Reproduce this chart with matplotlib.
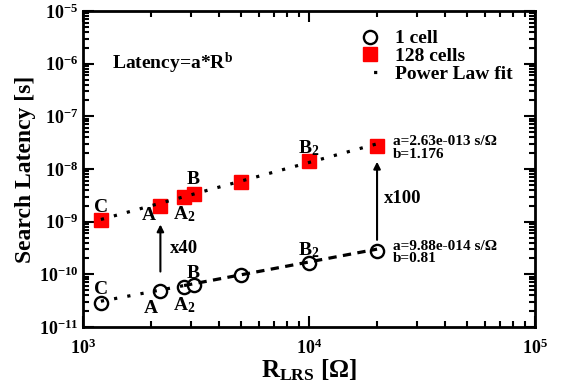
import matplotlib.pyplot as plt
import numpy as np
from matplotlib.lines import Line2D
from matplotlib.ticker import FuncFormatter

# measured search latency vs LRS resistance
r_one = [1200, 2200, 2800, 3100, 5000, 10000, 20000]
lat_one = [2.9e-11, 4.9e-11, 5.8e-11, 6.3e-11, 9.7e-11, 1.66e-10, 2.8e-10]
r_128 = [1200, 2200, 2800, 3100, 5000, 10000, 20000]
lat_128 = [1.07e-9, 2.0e-9, 3.0e-9, 3.4e-9, 5.7e-9, 1.43e-8, 2.75e-8]

# power law fits: latency = a * R^b
a_one, b_one = 9.88e-14, 0.81
a_128, b_128 = 2.63e-13, 1.176

# point labels (text, x, y) in data coords
labels_one = [('C', 1200, 5.2e-11), ('A', 2000, 2.2e-11), ('A$_\\mathbf{2}$', 2800, 2.6e-11),
              ('B', 3080, 1.02e-10), ('B$_\\mathbf{2}$', 10000, 2.9e-10)]
labels_128 = [('C', 1200, 1.85e-9), ('A', 1960, 1.3e-9), ('A$_\\mathbf{2}$', 2800, 1.4e-9),
              ('B', 3080, 6.3e-9), ('B$_\\mathbf{2}$', 10000, 2.5e-8)]

plt.rcParams['font.family'] = 'Liberation Serif'
plt.rcParams['font.weight'] = 'bold'
plt.rcParams['axes.labelweight'] = 'bold'
plt.rcParams['mathtext.fontset'] = 'custom'
plt.rcParams['mathtext.rm'] = 'Liberation Serif:bold'
plt.rcParams['mathtext.bf'] = 'Liberation Serif:bold'
plt.rcParams['mathtext.it'] = 'Liberation Serif:bold'
plt.rcParams['mathtext.default'] = 'bf'


def pow10(v, pos):
    e = int(round(np.log10(v)))
    return '$\\mathbf{10^{%d}}$' % e


fig = plt.figure(figsize=(5.62, 3.91), dpi=100)
ax = fig.add_axes([0.1477, 0.1637, 0.8043, 0.8082])

dot = (0, (1, 3.2))
dash = (0, (2.6, 2.0))

# markers
ax.plot(r_one, lat_one, 'o', mfc='white', mec='black', mew=1.7, ms=9.5, zorder=3)
ax.plot(r_128, lat_128, 's', mfc='red', mec='red', ms=10, zorder=3)

# fit lines
rr = np.array([1200, 2800])
ax.plot(rr, a_one * rr ** b_one, color='black', lw=2.3, ls=dot, zorder=4)
rr = np.array([2800, 20000])
ax.plot(rr, a_one * rr ** b_one, color='black', lw=2.3, ls=dash, zorder=4)
rr = np.array([1200, 20000])
ax.plot(rr, a_128 * rr ** b_128, color='black', lw=2.3, ls=dot, zorder=4)

for txt, x, y in labels_one + labels_128:
    ax.text(x, y, txt, fontsize=14, ha='center', va='center', fontweight='bold')

# scaling arrows
ax.annotate('', xy=(2200, 1.0e-9), xytext=(2200, 1.0e-10),
            arrowprops=dict(arrowstyle='-|>', color='black', lw=1.5, mutation_scale=10))
ax.text(2430, 3.1e-10, 'x40', fontsize=13.5, va='center', fontweight='bold')
ax.annotate('', xy=(20000, 1.55e-8), xytext=(20000, 4.0e-10),
            arrowprops=dict(arrowstyle='-|>', color='black', lw=1.5, mutation_scale=10))
ax.text(21500, 2.8e-9, 'x100', fontsize=13.5, va='center', fontweight='bold')

ax.text(23500, 2.5e-8, 'a=2.63e-013 s/\u03a9\nb=1.176', fontsize=11, va='center',
        linespacing=0.95, fontweight='bold')
ax.text(23500, 2.6e-10, 'a=9.88e-014 s/\u03a9\nb=0.81', fontsize=11, va='center',
        linespacing=0.95, fontweight='bold')
ax.text(1350, 1.0e-6, 'Latency=a*R$^{\\mathbf{b}}$', fontsize=14, va='center',
        fontweight='bold')

handles = [Line2D([], [], ls='none', marker='o', mfc='white', mec='black', mew=1.7, ms=9.5),
           Line2D([], [], ls='none', marker='s', mfc='red', mec='red', ms=10),
           Line2D([], [], color='black', lw=2.3, ls=(1.0, (1, 5.5)))]
ax.legend(handles, ['1 cell', '128 cells', 'Power Law fit'], loc='upper right',
          bbox_to_anchor=(0.985, 0.99), frameon=False,
          prop={'family': 'Liberation Serif', 'weight': 'bold', 'size': 14},
          handlelength=1.4, handletextpad=0.6, labelspacing=0.0, borderpad=0.3)

ax.set_xscale('log')
ax.set_yscale('log')
ax.set_xlim(1e3, 1e5)
ax.set_ylim(1e-11, 1e-5)
ax.set_xlabel('R$_{\\mathbf{LRS}}$ [\u03a9]', fontsize=18, labelpad=0)
ax.set_ylabel('Search Latency [s]', fontsize=17, labelpad=2)

ax.tick_params(which='both', direction='in', top=True, right=True, labelsize=13, width=1.5)
ax.tick_params(which='major', length=8)
ax.tick_params(which='minor', length=4)
ax.tick_params(axis='x', pad=8)
ax.yaxis.set_major_locator(plt.LogLocator(base=10, numticks=10))
ax.yaxis.set_minor_locator(plt.LogLocator(base=10, subs=np.arange(2, 10), numticks=10))
ax.xaxis.set_major_formatter(FuncFormatter(pow10))
ax.yaxis.set_major_formatter(FuncFormatter(pow10))
for s in ax.spines.values():
    s.set_linewidth(2)

fig.savefig('out.png', dpi=100)
